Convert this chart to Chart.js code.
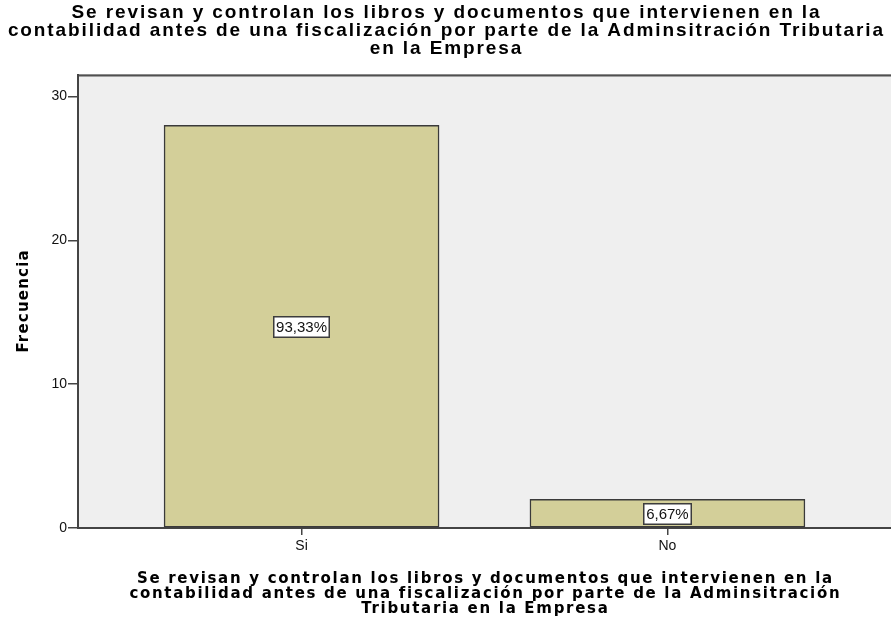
<!DOCTYPE html>
<html><head><meta charset="utf-8">
<script src="https://cdn.jsdelivr.net/npm/chart.js@4/dist/chart.umd.min.js"></script>
<style>html,body{margin:0;padding:0;background:#fff}#wrap{width:891px;height:624px}</style>
</head><body><div id="wrap"><canvas id="c" width="891" height="624"></canvas></div>
<script>
const categories = ['Si', 'No'];
const frequencies = [28, 2];
const percentLabels = ['93,33%', '6,67%'];
const yTicks = [0, 10, 20, 30];
const titleLines = [
  'Se revisan y controlan los libros y documentos que intervienen en la',
  'contabilidad antes de una fiscalización por parte de la Adminsitración Tributaria',
  'en la Empresa'
];
const xTitleLines = [
  'Se revisan y controlan los libros y documentos que intervienen en la',
  'contabilidad antes de una fiscalización por parte de la Adminsitración',
  'Tributaria en la Empresa'
];
const yTitle = 'Frecuencia';

function spacedText(ctx, txt, x, y, spacing) {
  ctx.letterSpacing = spacing + 'px';
  ctx.fillText(txt, x + spacing / 2, y);
  ctx.letterSpacing = '0px';
}

const plotBg = {
  id: 'plotBg',
  beforeDraw(chart) {
    const {ctx, chartArea: a} = chart;
    ctx.save();
    ctx.fillStyle = '#efefef';
    ctx.fillRect(a.left, a.top, a.right - a.left, a.bottom - a.top);
    ctx.fillStyle = '#8a8a8a';
    ctx.fillRect(a.left, a.top - 1, a.right - a.left, 1);
    ctx.fillStyle = '#505050';
    ctx.fillRect(a.left, a.top, a.right - a.left, 1.5);
    ctx.restore();
  }
};

const titles = {
  id: 'titles',
  afterDraw(chart) {
    const {ctx, chartArea: a} = chart;
    ctx.save();
    ctx.fillStyle = '#000';
    ctx.textAlign = 'center';
    ctx.textBaseline = 'middle';
    // main title
    ctx.font = 'bold 19px "Liberation Sans", Arial, sans-serif';
    titleLines.forEach((t, i) => spacedText(ctx, t, chart.width / 2, 13 + i * 18, 1.9));
    // x axis title
    ctx.font = 'bold 15px "DejaVu Sans", Verdana, sans-serif';
    const cx = (a.left + a.right) / 2;
    xTitleLines.forEach((t, i) => spacedText(ctx, t, cx, 579 + i * 15, 1.7));
    // y axis title
    ctx.translate(24, (a.top + a.bottom) / 2);
    ctx.rotate(-Math.PI / 2);
    ctx.font = 'bold 15px "DejaVu Sans", Verdana, sans-serif';
    spacedText(ctx, yTitle, 0, 0, 1.2);
    ctx.restore();
  }
};

const boxLabels = {
  id: 'boxLabels',
  afterDatasetsDraw(chart) {
    const {ctx} = chart;
    const meta = chart.getDatasetMeta(0);
    const ys = chart.scales.y;
    ctx.save();
    ctx.font = '15px "Liberation Sans", Arial, sans-serif';
    ctx.textAlign = 'center';
    ctx.textBaseline = 'middle';
    meta.data.forEach((bar, i) => {
      const cy = ys.getPixelForValue(frequencies[i] / 2);
      const txt = percentLabels[i];
      const w = Math.round(ctx.measureText(txt).width + 6);
      const h = 22;
      const x0 = Math.round(bar.x - w / 2), y0 = Math.round(cy - h / 2);
      ctx.fillStyle = '#ffffff';
      ctx.fillRect(x0, y0, w, h);
      ctx.strokeStyle = '#3c3c3c';
      ctx.lineWidth = 1.5;
      ctx.strokeRect(x0 + 0.75, y0 + 0.75, w - 1.5, h - 1.5);
      ctx.fillStyle = '#111';
      ctx.fillText(txt, bar.x, cy + 1);
    });
    ctx.restore();
  }
};

new Chart(document.getElementById('c'), {
  type: 'bar',
  data: {
    datasets: [{
      data: categories.map((c, i) => ({x: i, y: frequencies[i]})),
      backgroundColor: '#d3cf99',
      borderColor: '#3a3a3a',
      borderWidth: 1.5,
      borderSkipped: false,
      barThickness: 275
    }]
  },
  options: {
    responsive: false,
    animation: false,
    layout: {padding: {top: 75, left: 0, right: 0, bottom: 0}},
    plugins: {
      legend: {display: false},
      tooltip: {enabled: false},
      title: {display: false}
    },
    scales: {
      x: {
        type: 'linear',
        offset: false,
        min: -0.611,
        max: 1.611,
        afterFit(s) { s.height = 96; },
        afterBuildTicks(s) { s.ticks = categories.map((c, i) => ({value: i})); },
        ticks: {
          callback: (v) => categories[v],
          color: '#111',
          font: {family: '"Liberation Sans", Arial, sans-serif', size: 14},
          padding: 3,
          maxRotation: 0,
          autoSkip: false
        },
        grid: {offset: false, drawOnChartArea: false, drawTicks: true, tickLength: 7, color: '#444', lineWidth: 1.5},
        border: {display: true, color: '#444', width: 2},
        title: {display: false}
      },
      y: {
        min: 0,
        max: 31.5,
        afterFit(s) { s.width = 78; },
        afterBuildTicks(s) { s.ticks = yTicks.map(v => ({value: v})); },
        ticks: {
          color: '#111',
          font: {family: '"Liberation Sans", Arial, sans-serif', size: 14},
          padding: 1
        },
        grid: {drawOnChartArea: false, drawTicks: true, tickLength: 10, color: '#444', lineWidth: 1.5},
        border: {display: true, color: '#444', width: 2},
        title: {display: false}
      }
    }
  },
  plugins: [plotBg, boxLabels, titles]
});
</script>
</body></html>
